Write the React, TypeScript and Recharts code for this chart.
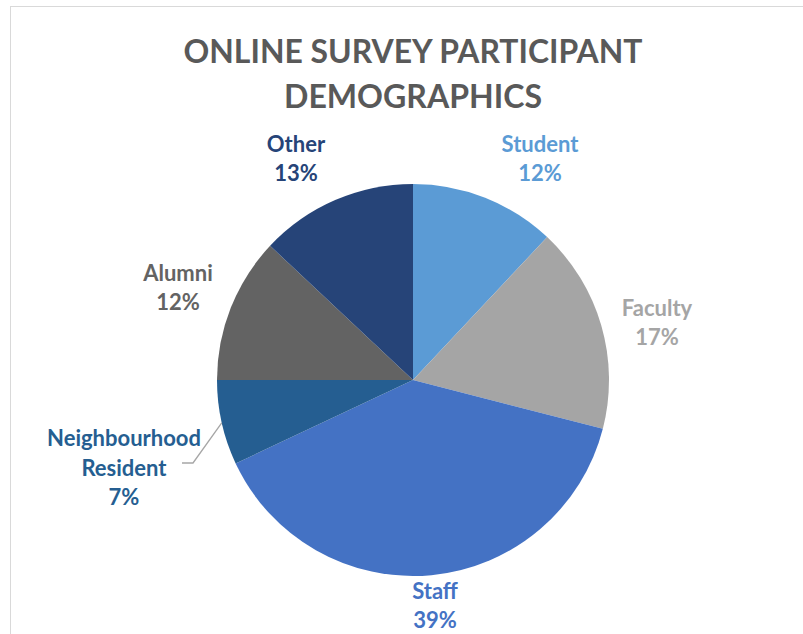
import { PieChart, Pie, Cell } from "recharts";

// ─── DATA ────────────────────────────────────────────────────────────────────
const CATEGORIES = ["Student", "Faculty", "Staff", "Neighbourhood Resident", "Alumni", "Other"];
const SHARES = [12, 17, 39, 7, 12, 13];
const TITLE_LINES = ["ONLINE SURVEY PARTICIPANT", "DEMOGRAPHICS"];

// ─── STYLE / LAYOUT ──────────────────────────────────────────────────────────
const COLORS = ["#5B9BD5", "#A5A5A5", "#4472C4", "#255E91", "#636363", "#264478"];
const W = 803;
const H = 634;
const CX = 413;
const CY = 380;
const R = 196;
const FONT = "Lato, 'Open Sans', sans-serif";
// label block centre, offset from the pie centre (Excel "best fit" look)
const LABEL_OFFSETS = [
  [127, -222],
  [244, -58],
  [22, 225],
  [-289, 87],
  [-235, -93],
  [-117, -222],
];
const TITLE_WIDTHS = [459, 258];
const TITLE_BASELINES = [63, 108];

const pieData = CATEGORIES.map((name, i) => ({ name, value: SHARES[i] }));

const RAD = Math.PI / 180;

function SliceLabel(props: any) {
  const { midAngle, index, name, value } = props;
  const cx = typeof props.cx === "number" ? props.cx : CX;
  const cy = typeof props.cy === "number" ? props.cy : CY;
  const outer = typeof props.outerRadius === "number" ? props.outerRadius : R;
  const [dx, dy] = LABEL_OFFSETS[index];
  const x = cx + dx;
  const y = cy + dy;
  const lines = [...String(name).split(" "), `${value}%`];
  const lh = 29.5;
  const top = y - ((lines.length - 1) * lh) / 2;
  const color = COLORS[index];

  // leader line only for the small slice whose label sits away from it
  let leader = null;
  if (index === 3) {
    const ex = cx + outer * Math.cos(-midAngle * RAD);
    const ey = cy + outer * Math.sin(-midAngle * RAD);
    const ly = y - 4;
    leader = (
      <polyline
        points={`${ex},${ey} ${x + 69},${ly} ${x + 58},${ly}`}
        fill="none"
        stroke="#A6A6A6"
        strokeWidth={1.3}
      />
    );
  }

  return (
    <g>
      {leader}
      <text
        x={x}
        y={top}
        fill={color}
        fontFamily={FONT}
        fontWeight={700}
        fontSize={22}
        textAnchor="middle"
      >
        {lines.map((l, i) => (
          <tspan key={i} x={x} y={top + i * lh} dominantBaseline="central">
            {l}
          </tspan>
        ))}
      </text>
    </g>
  );
}

export default function App() {
  return (
    <div
      style={{
        position: "absolute",
        left: 0,
        top: 0,
        width: W,
        height: H,
        overflow: "hidden",
        background: "#fff",
      }}
    >
      {/* frame + title */}
      <svg width={W} height={H} style={{ position: "absolute", left: 0, top: 0 }}>
        <rect x={10.5} y={6.5} width={W + 20} height={H + 20} fill="#fff" stroke="#D9D9D9" strokeWidth={1} />
        {TITLE_LINES.map((t, i) => (
          <text
            key={t}
            x={CX - TITLE_WIDTHS[i] / 2}
            y={TITLE_BASELINES[i]}
            textLength={TITLE_WIDTHS[i]}
            lengthAdjust="spacingAndGlyphs"
            fill="#595959"
            fontFamily={FONT}
            fontWeight={700}
            fontSize={33}
          >
            {t}
          </text>
        ))}
      </svg>

      <div style={{ position: "absolute", left: 0, top: 0 }}>
        <PieChart width={W} height={H} margin={{ top: 0, right: 0, bottom: 0, left: 0 }}>
          <Pie
            data={pieData}
            dataKey="value"
            nameKey="name"
            cx={CX}
            cy={CY}
            outerRadius={R}
            startAngle={90}
            endAngle={-270}
            stroke="none"
            label={SliceLabel}
            labelLine={false}
            isAnimationActive={false}
          >
            {pieData.map((d, i) => (
              <Cell key={d.name} fill={COLORS[i]} />
            ))}
          </Pie>
        </PieChart>
      </div>
    </div>
  );
}
